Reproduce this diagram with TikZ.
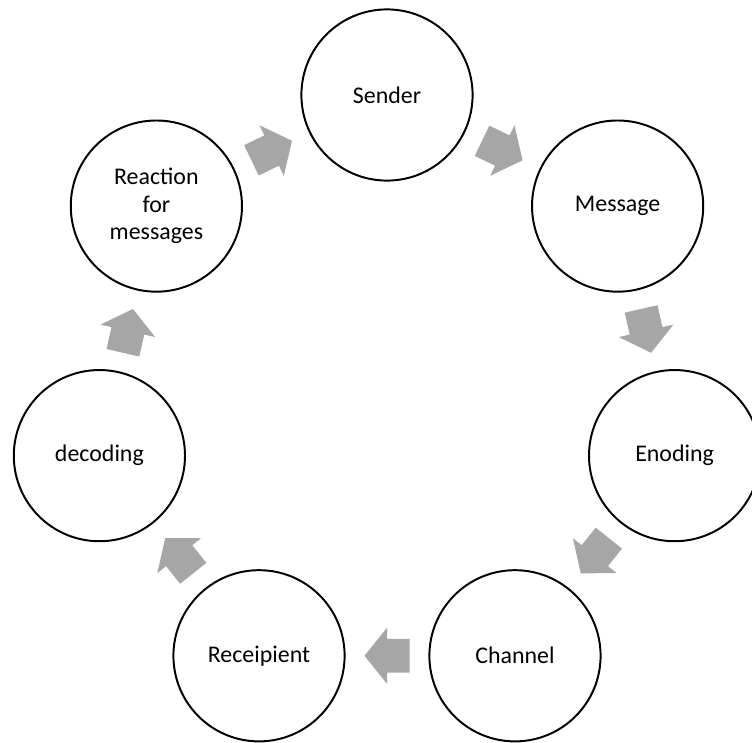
\documentclass[tikz,border=0pt]{standalone}
\usepackage{fontspec}
\setmainfont{Carlito}
\usetikzlibrary{calc}

\definecolor{arrowgray}{RGB}{166,166,166}
\tikzset{
    stage/.style={circle, draw=black, line width=1.4pt, minimum size=4.28cm, inner sep=0pt, align=center, font=\fontsize{17}{19.5}\selectfont},
    flow/.pic={\fill[arrowgray] (-0.5625,-0.42) -- (0,-0.42) -- (0,-0.7) -- (0.5625,0) -- (0,0.7) -- (0,0.42) -- (-0.5625,0.42) -- cycle;}
}

\begin{document}
\begin{tikzpicture}
    \useasboundingbox (-9.675,-8.8) rectangle (9.125,9.75);
    \clip (-9.675,-8.8) rectangle (9.125,9.75);
    \node[stage] (sender) at (90:7.375) {Sender};
    \node[stage] (message) at (38.571:7.375) {Message};
    \node[stage] (encoding) at (-12.857:7.375) {Enoding};
    \node[stage] (channel) at (-64.286:7.375) {Channel};
    \node[stage] (recipient) at (-115.714:7.375) {Receipient};
    \node[stage] (decoding) at (-167.143:7.375) {decoding};
    \node[stage] (reaction) at (141.429:7.375) {Reaction\\for\\messages};
    \foreach \a/\b [count=\i] in {sender/message, message/encoding, encoding/channel, channel/recipient, recipient/decoding, decoding/reaction, reaction/sender}
        \pic[rotate={-(\i-0.5)*360/7}] at ($(\a)!0.5!(\b)$) {flow};
\end{tikzpicture}
\end{document}
